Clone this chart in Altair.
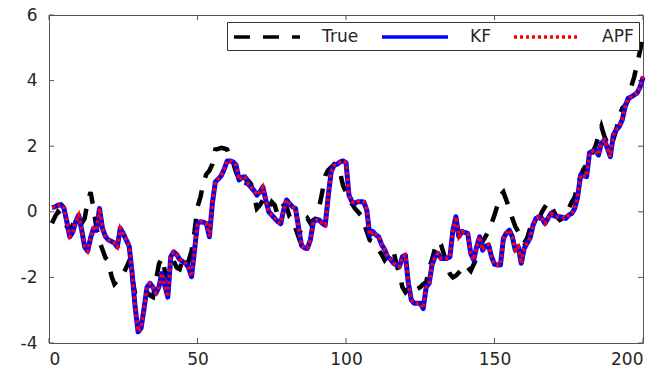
import altair as alt
import pandas as pd

t = list(range(1, 201))

true_vals = [
    -0.35, -0.15, 0.0, -0.1, -0.2, -0.45, -0.6, -0.4, -0.2, -0.25,
    -0.35, -0.2, 0.3, 0.6, 0.1, -0.5, -0.9, -1.15, -1.4, -1.5,
    -1.95, -2.2, -2.1, -2.0, -1.9, -1.7, -1.5, -2.0, -2.5, -2.55,
    -2.5, -2.5, -2.45, -2.55, -2.6, -2.1, -1.6, -1.4, -1.8, -2.0,
    -1.6, -1.5, -1.7, -1.75, -1.45, -1.35, -1.5, -1.2, -0.6, 0.15,
    0.45, 0.9, 1.15, 1.25, 1.45, 1.9, 1.92, 1.95, 1.93, 1.9,
    1.65, 1.5, 1.2, 1.0, 0.9, 0.75, 0.95, 0.85, 0.5, 0.1,
    0.2, 0.35, 0.2, 0.1, 0.3, 0.2, -0.1, 0.1, 0.2, 0.15,
    -0.15, -0.2, -0.5, -0.76, -0.5, -0.3, -0.2, -0.35, -0.25, -0.2,
    0.15, 0.6, 1.1, 1.27, 1.35, 1.45, 1.4, 1.2, 0.8, 0.6,
    0.3, 0.25, 0.1, 0.0, -0.1, -0.35, -0.6, -0.86, -0.9, -1.05,
    -1.17, -1.3, -1.47, -1.35, -1.15, -1.2, -1.6, -1.9, -2.3, -2.45,
    -2.35, -2.2, -2.3, -2.35, -2.3, -2.2, -2.15, -1.7, -1.45, -1.1,
    -0.9, -1.0, -1.3, -1.6, -1.9, -2.0, -1.95, -1.85, -1.75, -1.6,
    -1.7, -1.8, -1.6, -1.4, -1.2, -0.9, -0.75, -0.6, -0.35, -0.1,
    0.2, 0.5, 0.6, 0.35, 0.1, -0.2, -0.45, -0.6, -0.8, -0.95,
    -0.8, -0.5, -0.3, -0.25, -0.2, 0.0, 0.15, 0.3, 0.2, 0.0,
    -0.15, -0.25, -0.2, -0.05, 0.1, 0.3, 0.45, 0.8, 1.1, 1.3,
    1.45, 1.6, 1.8, 2.0, 2.3, 2.6, 2.3, 2.1, 2.0, 2.2,
    2.5, 2.9, 3.15, 3.25, 3.4, 3.8, 4.1, 4.5, 4.9, 5.45,
]

kf_vals = [
    0.13, 0.15, 0.2, 0.22, 0.12, -0.3, -0.76, -0.62, -0.3, -0.1,
    -0.55, -1.07, -1.2, -0.8, -0.5, -0.56, 0.1, -0.5, -0.75, -0.86,
    -0.9, -0.95, -1.07, -0.5, -0.66, -0.86, -1.05, -1.88, -2.9, -3.66,
    -3.55, -2.95, -2.3, -2.18, -2.3, -2.49, -2.29, -1.88, -2.25, -2.6,
    -1.37, -1.22, -1.3, -1.45, -1.52, -1.57, -1.7, -1.98, -1.17, -0.36,
    -0.3, -0.32, -0.36, -0.76, 0.25, 0.91, 1.0, 1.1, 1.3, 1.55,
    1.55, 1.52, 1.42, 0.97, 1.05, 1.07, 0.86, 0.75, 0.65, 0.51,
    0.6, 0.76, 0.36, 0.0, -0.1, -0.2, -0.3, -0.36, 0.05, 0.36,
    0.25, 0.15, 0.1, -0.46, -1.02, -1.1, -1.12, -0.86, -0.3, -0.25,
    -0.25, -0.35, -0.41, 0.46, 1.22, 1.42, 1.45, 1.52, 1.55, 1.5,
    0.51, 0.31, 0.26, 0.31, 0.31, 0.3, 0.05, -0.71, -0.6, -0.7,
    -0.76, -1.0, -1.15, -1.37, -1.45, -1.57, -1.62, -1.67, -1.37, -1.32,
    -2.18, -2.69, -2.79, -2.79, -2.79, -2.95, -2.29, -2.18, -1.6, -1.37,
    -1.27, -1.42, -1.42, -1.42, -1.37, -0.56, -0.15, -0.76, -0.6, -0.63,
    -0.66, -1.27, -1.47, -1.06, -0.76, -1.17, -1.05, -1.01, -1.37, -1.6,
    -1.62, -1.62, -0.81, -0.65, -0.56, -0.76, -1.17, -1.06, -1.57, -1.12,
    -0.95, -0.8, -0.4, -0.2, -0.15, -0.2, -0.36, -0.2, -0.05, -0.12,
    -0.15, -0.15, -0.17, -0.2, -0.1, -0.05, 0.1, 0.46, 1.12, 1.1,
    1.07, 1.8, 1.85, 1.88, 1.73, 2.09, 2.19, 1.94, 1.68, 2.34,
    2.5, 2.6, 2.8, 3.21, 3.46, 3.5, 3.56, 3.62, 3.8, 4.1,
]

apf_vals = [
    0.14, 0.15, 0.2, 0.22, 0.12, -0.3, -0.75, -0.62, -0.3, -0.1,
    -0.55, -1.06, -1.2, -0.8, -0.5, -0.56, 0.11, -0.5, -0.75, -0.86,
    -0.9, -0.95, -1.07, -0.5, -0.66, -0.86, -1.05, -1.88, -2.9, -3.65,
    -3.55, -2.95, -2.3, -2.18, -2.3, -2.48, -2.29, -1.88, -2.25, -2.6,
    -1.37, -1.22, -1.3, -1.45, -1.52, -1.57, -1.7, -1.97, -1.17, -0.36,
    -0.3, -0.32, -0.36, -0.75, 0.25, 0.91, 1.0, 1.1, 1.3, 1.55,
    1.55, 1.52, 1.42, 0.97, 1.05, 1.07, 0.86, 0.75, 0.65, 0.51,
    0.6, 0.76, 0.36, 0.0, -0.1, -0.2, -0.3, -0.36, 0.05, 0.36,
    0.25, 0.15, 0.1, -0.46, -1.02, -1.1, -1.12, -0.86, -0.3, -0.25,
    -0.25, -0.35, -0.41, 0.46, 1.22, 1.42, 1.45, 1.52, 1.55, 1.5,
    0.51, 0.31, 0.26, 0.31, 0.31, 0.3, 0.05, -0.71, -0.6, -0.7,
    -0.76, -1.0, -1.15, -1.37, -1.45, -1.57, -1.62, -1.67, -1.37, -1.32,
    -2.18, -2.69, -2.79, -2.79, -2.79, -2.94, -2.29, -2.18, -1.6, -1.37,
    -1.27, -1.42, -1.42, -1.42, -1.37, -0.56, -0.15, -0.76, -0.6, -0.63,
    -0.66, -1.27, -1.47, -1.06, -0.76, -1.17, -1.05, -1.01, -1.37, -1.6,
    -1.62, -1.62, -0.81, -0.65, -0.56, -0.76, -1.17, -1.06, -1.57, -1.12,
    -0.95, -0.8, -0.4, -0.2, -0.15, -0.2, -0.36, -0.2, -0.05, -0.12,
    -0.15, -0.15, -0.17, -0.2, -0.1, -0.05, 0.1, 0.46, 1.12, 1.1,
    1.07, 1.8, 1.85, 1.88, 1.73, 2.09, 2.19, 1.94, 1.68, 2.34,
    2.5, 2.6, 2.8, 3.21, 3.46, 3.5, 3.56, 3.62, 3.8, 4.15,
]

series_names = ["True", "KF", "APF"]
series_colors = ["#000000", "#0000ff", "#ff0000"]
series_dashes = [[16, 13], [1, 0], [3, 3]]
x_ticks = [0, 50, 100, 150, 200]
y_ticks = [-4, -2, 0, 2, 4, 6]

rows = []
for name, vals in zip(series_names, [true_vals, kf_vals, apf_vals]):
    for ti, v in zip(t, vals):
        rows.append({"t": ti, "value": v, "series": name})
df = pd.DataFrame(rows)

W, H = 594, 328
FONT = "DejaVu Sans"
TXT = "#262626"
AX = "#555555"

xs = alt.Scale(domain=[0, 200], nice=False)
ys = alt.Scale(domain=[-4, 6], nice=False)

x_axis = alt.Axis(values=x_ticks, domain=False, ticks=False, tickSize=0, grid=False,
                  labelFontSize=17, labelFont=FONT, labelColor=TXT, labelPadding=8,
                  title=None, labelExpr="'' + datum.value")
y_axis = alt.Axis(values=y_ticks, domain=False, ticks=False, tickSize=0, grid=False,
                  labelFontSize=17, labelFont=FONT, labelColor=TXT, labelPadding=12,
                  title=None, labelExpr="'' + datum.value")

color = alt.Color("series:N",
                  scale=alt.Scale(domain=series_names, range=series_colors),
                  legend=alt.Legend(title=None))
dash = alt.StrokeDash("series:N",
                      scale=alt.Scale(domain=series_names, range=series_dashes),
                      legend=alt.Legend(title=None))

base = alt.Chart(df).encode(
    x=alt.X("t:Q", scale=xs, axis=x_axis),
    y=alt.Y("value:Q", scale=ys, axis=y_axis),
    color=color,
    strokeDash=dash,
)

true_line = base.transform_filter(alt.datum.series == "True").mark_line(strokeWidth=4.5)
kf_line = base.transform_filter(alt.datum.series == "KF").mark_line(strokeWidth=5, strokeJoin="round")
apf_line = base.transform_filter(alt.datum.series == "APF").mark_line(strokeWidth=3.5)

xt_df = pd.DataFrame({"t": x_ticks})
yt_df = pd.DataFrame({"value": y_ticks})

xt_bottom = alt.Chart(xt_df).mark_rule(color=AX, strokeWidth=1).encode(
    x=alt.X("t:Q", scale=xs, axis=x_axis), y=alt.value(H), y2=alt.value(H - 5))
xt_top = alt.Chart(xt_df).mark_rule(color=AX, strokeWidth=1).encode(
    x=alt.X("t:Q", scale=xs, axis=x_axis), y=alt.value(0), y2=alt.value(5))
yt_left = alt.Chart(yt_df).mark_rule(color=AX, strokeWidth=1).encode(
    y=alt.Y("value:Q", scale=ys, axis=y_axis), x=alt.value(0), x2=alt.value(5))
yt_right = alt.Chart(yt_df).mark_rule(color=AX, strokeWidth=1).encode(
    y=alt.Y("value:Q", scale=ys, axis=y_axis), x=alt.value(W - 5), x2=alt.value(W))

chart = alt.layer(
    xt_bottom, xt_top, yt_left, yt_right, true_line, kf_line, apf_line
).properties(
    width=W, height=H,
    autosize=alt.AutoSizeParams(type="none"),
    padding={"left": 49, "top": 15, "right": 24, "bottom": 30},
    background="white",
).configure_view(
    stroke=AX, strokeWidth=1
).configure_legend(
    orient="none", legendX=178, legendY=7, direction="horizontal",
    symbolType="M-1,0H7.25", symbolSize=256, symbolStrokeWidth=3.5,
    labelFontSize=17, labelFont=FONT, labelColor=TXT, labelOffset=70,
    columnPadding=16, padding=5, strokeColor="#333333", fillColor="white",
    cornerRadius=0,
)

chart.save("out.html", embed_options={"renderer": "svg", "actions": False})
